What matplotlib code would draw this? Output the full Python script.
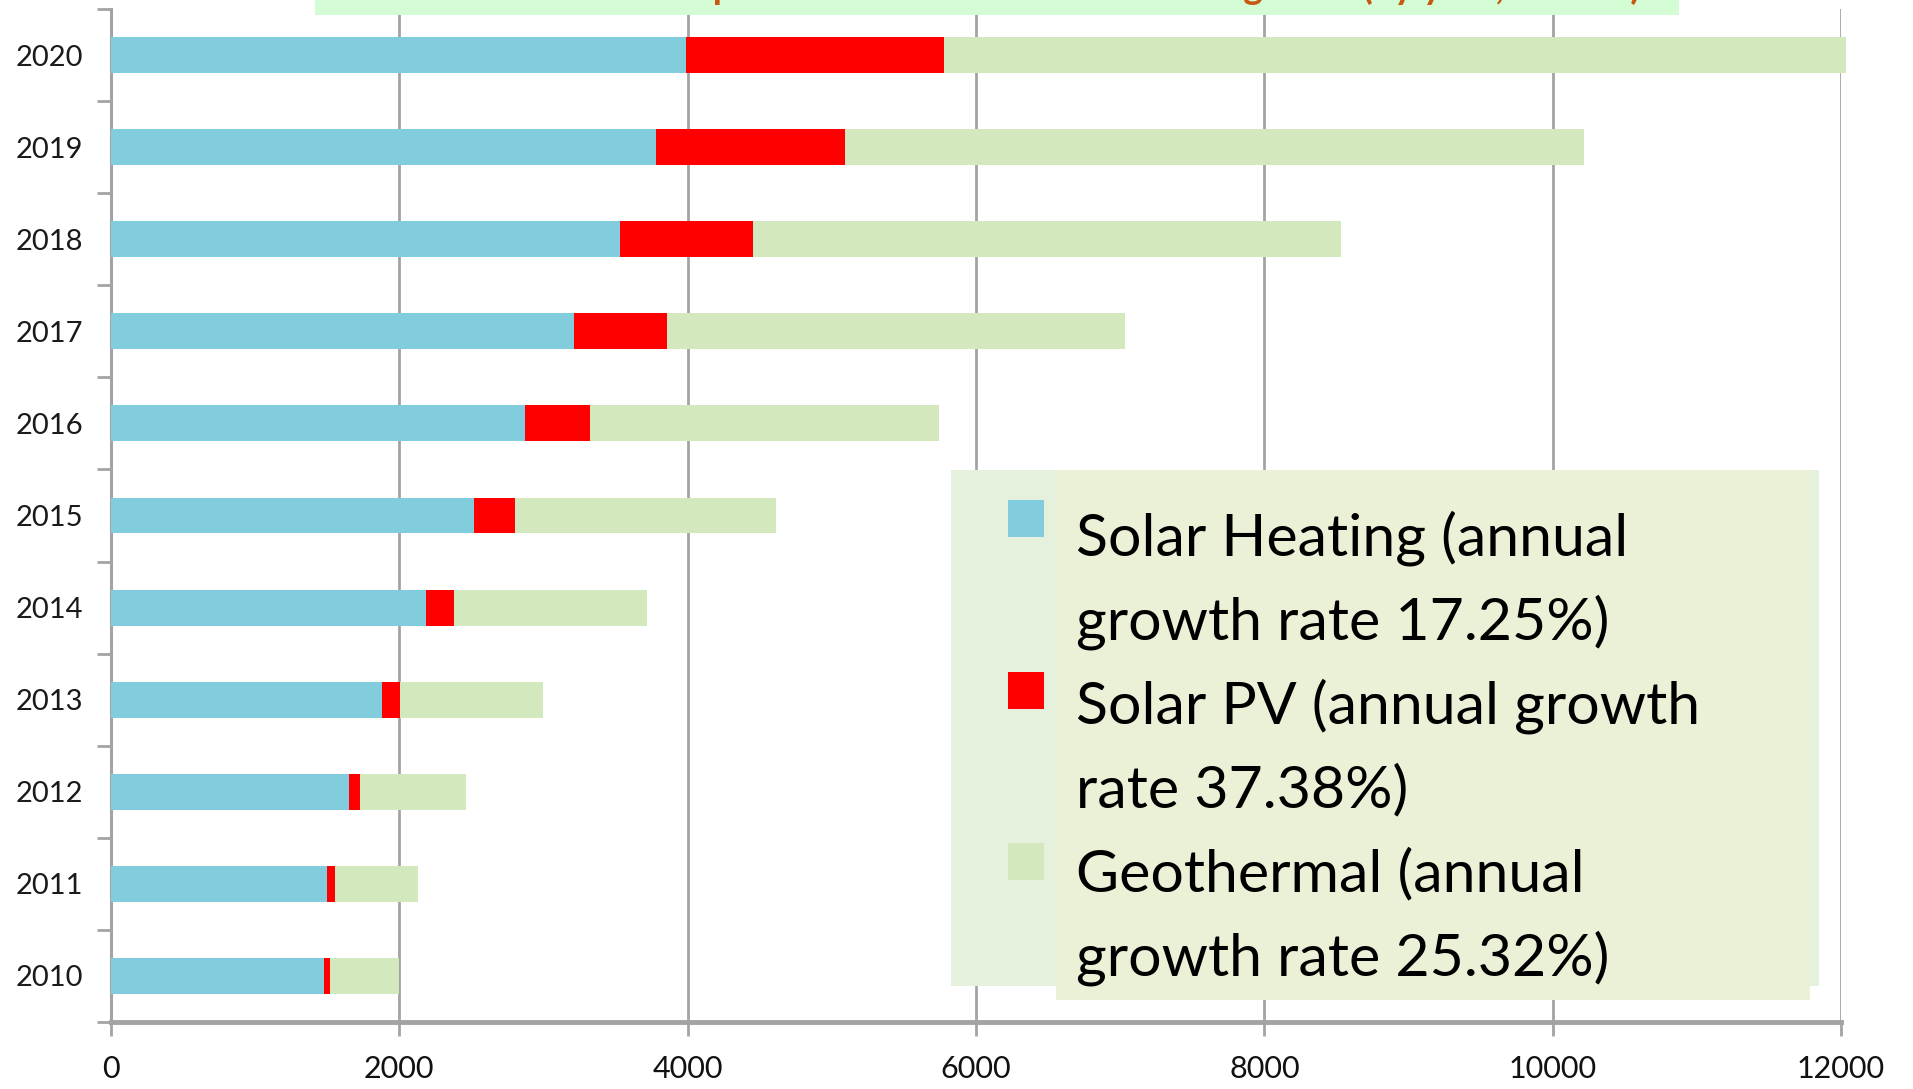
import matplotlib
matplotlib.use("Agg")
import matplotlib.pyplot as plt
from matplotlib.patches import Rectangle

# ---------------- data ----------------
years = ["2010", "2011", "2012", "2013", "2014", "2015", "2016", "2017", "2018", "2019", "2020"]
solar_heating = [1480, 1500, 1650, 1880, 2185, 2515, 2870, 3215, 3530, 3780, 3990]
solar_pv = [40, 55, 80, 125, 195, 290, 450, 645, 920, 1310, 1785]
geothermal = [475, 575, 735, 990, 1340, 1810, 2420, 3175, 4080, 5130, 6260]
x_ticks = [0, 2000, 4000, 6000, 8000, 10000, 12000]
legend_lines = [
    ["Solar Heating (annual", "growth rate 17.25%)"],
    ["Solar PV (annual growth", "rate 37.38%)"],
    ["Geothermal (annual", "growth rate 25.32%)"],
]
title = "Development of the Renewable Heating Load (by year, 10\u2074 tce)"

# ---------------- style ----------------
C_HEAT = "#82CDDD"
C_PV = "#FF0000"
C_GEO = "#D3E8BD"
GRID = "#A3A3A3"

W, H = 1913, 1089
fig = plt.figure(figsize=(W / 100, H / 100), dpi=100)
fig.patch.set_facecolor("white")

def fx(x):
    return x / W

def fy(y):
    return 1 - y / H

ax = fig.add_axes([fx(111), fy(1022), fx(1841) - fx(111), (1022 - 9) / H])

ypos = list(range(len(years)))
left2 = [a for a in solar_heating]
left3 = [a + b for a, b in zip(solar_heating, solar_pv)]
bh = 0.39
ax.barh(ypos, solar_heating, height=bh, color=C_HEAT, linewidth=0, zorder=3, clip_on=False)
ax.barh(ypos, solar_pv, left=left2, height=bh, color=C_PV, linewidth=0, zorder=3, clip_on=False)
ax.barh(ypos, geothermal, left=left3, height=bh, color=C_GEO, linewidth=0, zorder=3, clip_on=False)

ax.set_xlim(0, 12000)
ax.set_ylim(-0.5, len(years) - 0.5)
ax.set_xticks(x_ticks)
ax.set_xticklabels([str(t) for t in x_ticks], fontfamily="Lato", fontsize=22, color="#111111")
ax.set_yticks(ypos)
ax.set_yticklabels(years, fontfamily="Lato", fontsize=21, color="#1a1a1a")
ax.set_yticks([i - 0.5 for i in range(len(years) + 1)], minor=True)

ax.xaxis.grid(True, color=GRID, linewidth=2, zorder=0)
ax.set_axisbelow(True)

ax.tick_params(axis="y", which="major", length=0, pad=20)
ax.tick_params(axis="y", which="minor", length=10, width=2, color=GRID, direction="out")
ax.tick_params(axis="x", which="major", length=10, width=2, color=GRID, direction="out", pad=14)

for s in ("top", "right"):
    ax.spines[s].set_visible(False)
ax.spines["left"].set_color(GRID)
ax.spines["left"].set_linewidth(2.2)
ax.spines["bottom"].set_color(GRID)
ax.spines["bottom"].set_linewidth(3.5)

# ---------------- title (clipped at the top) ----------------
fig.add_artist(Rectangle((fx(315), fy(15)), fx(1679) - fx(315), 15 / H,
                         transform=fig.transFigure, facecolor="#D5FDD5",
                         edgecolor="none", zorder=5))
fig.text(fx(1640), fy(-1), title, ha="right", va="baseline", fontsize=27,
         fontfamily="Lato", fontweight="bold", color="#C65911", zorder=6)

# ---------------- legend ----------------
fig.add_artist(Rectangle((fx(951), fy(986)), fx(1819) - fx(951), (986 - 470) / H,
                         transform=fig.transFigure, facecolor="#E5F0DD",
                         edgecolor="none", zorder=5))
fig.add_artist(Rectangle((fx(1056), fy(1000)), fx(1810) - fx(1056), (1000 - 470) / H,
                         transform=fig.transFigure, facecolor="#EBF1D7",
                         edgecolor="none", zorder=5))
marker_tops = [500, 672, 843]
colors = [C_HEAT, C_PV, C_GEO]
baselines = [555, 639, 723, 807, 891, 975]
for i, (lines, c) in enumerate(zip(legend_lines, colors)):
    t = marker_tops[i]
    fig.add_artist(Rectangle((fx(1008), fy(t + 37)), fx(1044) - fx(1008), 37 / H,
                             transform=fig.transFigure, facecolor=c,
                             edgecolor="none", zorder=6))
    for j, line in enumerate(lines):
        fig.text(fx(1076), fy(baselines[2 * i + j]), line, ha="left", va="baseline",
                 fontsize=42.5, fontfamily="Lato", color="black", zorder=7)

fig.savefig("out.png", dpi=100)
